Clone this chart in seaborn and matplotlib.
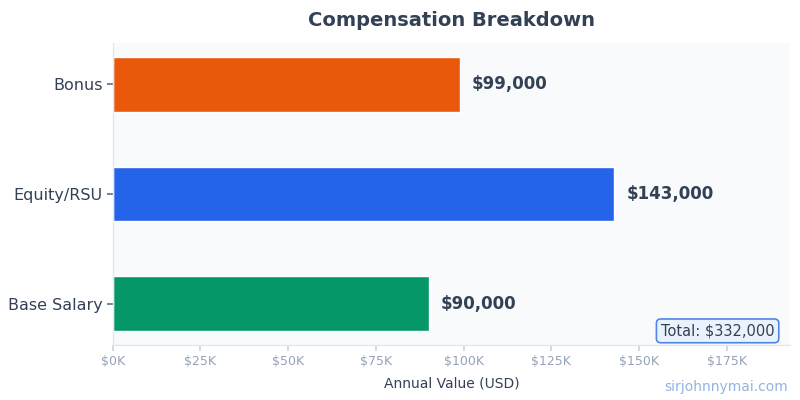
import matplotlib
matplotlib.use("Agg")
import matplotlib.pyplot as plt
import pandas as pd
import seaborn as sns
from matplotlib.ticker import FuncFormatter

COMPONENTS = ["Bonus", "Equity/RSU", "Base Salary"]
VALUES = [99000, 143000, 90000]
COLORS = ["#EA580C", "#2563EB", "#059669"]

TEXT = "#334155"
MUTED = "#94A3B8"


def main():
    sns.set_theme(style="white")
    plt.rcParams["font.family"] = ["DejaVu Sans"]

    df = pd.DataFrame({"component": COMPONENTS, "value": VALUES})

    fig = plt.figure(figsize=(8, 4), dpi=100)
    ax = fig.add_axes([0.141, 0.1375, 0.8465, 0.755])
    ax.set_facecolor("#F8FAFC")

    sns.barplot(data=df, y="component", x="value", hue="component",
                palette=COLORS, order=COMPONENTS, width=0.5, legend=False,
                saturation=1, ax=ax)
    ax.set_ylim(2.375, -0.375)
    ax.set_xlim(0, max(VALUES) * 1.35)

    for i, v in enumerate(VALUES):
        ax.text(v + max(VALUES) * 0.024, i, f"${v:,.0f}", va="center", ha="left",
                fontsize=12, fontweight="bold", color=TEXT)

    ax.xaxis.set_major_formatter(FuncFormatter(lambda x, _: f"${x / 1000:.0f}K"))
    ax.set_xticks(range(0, 200000, 25000))
    ax.tick_params(axis="x", colors="#CBD5E1", labelcolor=MUTED, labelsize=9, length=4, bottom=True)
    ax.tick_params(axis="y", colors="#64748B", labelcolor=TEXT, labelsize=11.5, length=4, left=True)

    ax.set_xlabel("Annual Value (USD)", fontsize=10, color=TEXT, labelpad=6)
    ax.set_ylabel("")
    ax.set_title("Compensation Breakdown", fontsize=14, fontweight="bold", color=TEXT, pad=12)

    for side in ["top", "right"]:
        ax.spines[side].set_visible(False)
    for side in ["left", "bottom"]:
        ax.spines[side].set_color("#E2E8F0")
        ax.spines[side].set_linewidth(1)

    ax.text(0.977, 0.022, f"Total: ${sum(VALUES):,.0f}", transform=ax.transAxes,
            ha="right", va="bottom", fontsize=10.5, color=TEXT,
            bbox=dict(boxstyle="round,pad=0.3", facecolor="#EAF2FE", edgecolor="#4F86E8", linewidth=1.2))

    fig.text(0.985, 0.015, "sirjohnnymai.com", ha="right", va="bottom",
             fontsize=10, color="#93B4E0")

    fig.savefig("out.png", dpi=100)
    plt.close(fig)


if __name__ == "__main__":
    main()
